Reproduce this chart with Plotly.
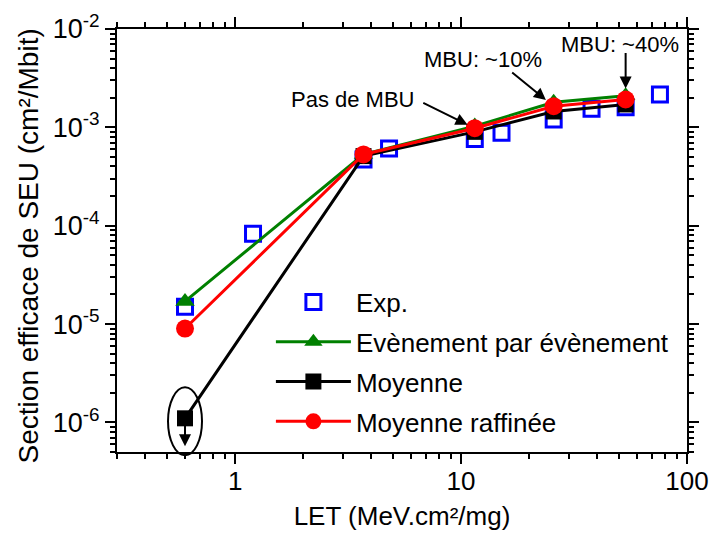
import math
import plotly.graph_objects as go

# Data
let_exp = [0.6, 1.2, 3.7, 4.8, 11.5, 15.1, 25.7, 37.8, 53.5, 75.9]
sig_exp = [1.5e-5, 8.3e-5, 4.7e-4, 6.1e-4, 7.6e-4, 8.8e-4, 1.2e-3, 1.55e-3, 1.6e-3, 2.16e-3]

let_sim = [0.6, 3.7, 11.5, 25.7, 53.5]
sig_evt = [1.7e-5, 5.3e-4, 1.03e-3, 1.8e-3, 2.1e-3]
sig_moy = [1.1e-6, 5.1e-4, 9.0e-4, 1.45e-3, 1.71e-3]
sig_raf = [9.0e-6, 5.3e-4, 9.8e-4, 1.64e-3, 1.92e-3]

y_tickvals = [1e-6, 1e-5, 1e-4, 1e-3, 1e-2]
y_ticktext = ["10<sup>-6</sup>", "10<sup>-5</sup>", "10<sup>-4</sup>", "10<sup>-3</sup>", "10<sup>-2</sup>"]
x_tickvals = [1, 10, 100]
x_ticktext = ["1", "10", "100"]

x_range = [math.log10(0.3), 2.0]
y_range = [math.log10(5e-7), -2.0]

FONT = "Liberation Sans, Arial, sans-serif"
W, H = 713, 538
ML, MR, MT, MB = 117, 26, 29, 86
PW, PH = W - ML - MR, H - MT - MB

fig = go.Figure()
fig.add_trace(go.Scatter(
    x=let_exp, y=sig_exp, mode="markers", name="Exp.",
    marker=dict(symbol="square-open", size=15, color="#0000FF", line=dict(width=3, color="#0000FF")),
    legendgroup="a"))
fig.add_trace(go.Scatter(
    x=let_sim, y=sig_evt, mode="lines+markers", name="Evènement par évènement",
    line=dict(color="#008000", width=3),
    marker=dict(symbol="triangle-up", size=17, color="#008000"),
    legendgroup="b"))
fig.add_trace(go.Scatter(
    x=let_sim, y=sig_moy, mode="lines+markers", name="Moyenne",
    line=dict(color="#000000", width=3),
    marker=dict(symbol="square", size=16, color="#000000"),
    legendgroup="c"))
fig.add_trace(go.Scatter(
    x=let_sim, y=sig_raf, mode="lines+markers", name="Moyenne raffinée",
    line=dict(color="#FF0000", width=3),
    marker=dict(symbol="circle", size=18, color="#FF0000"),
    legendgroup="d"))

lx = [math.log10(v) for v in let_sim]
ly = [math.log10(v) for v in sig_raf]

ann = []
arrow_style = dict(showarrow=True, arrowhead=2, arrowsize=1.2, arrowwidth=2, arrowcolor="black", text="")
ann.append(dict(x=lx[2], y=ly[2], ax=-53, ay=-26, standoff=8, **arrow_style))
ann.append(dict(x=lx[3], y=ly[3], ax=-43, ay=-35, standoff=10, **arrow_style))
ann.append(dict(x=lx[4], y=ly[4], ax=0, ay=-48, standoff=11, **arrow_style))
tfont = dict(family=FONT, size=22, color="black")
ann.append(dict(x=lx[2], y=ly[2], text="Pas de MBU", showarrow=False, xshift=-122, yshift=29, font=tfont))
ann.append(dict(x=lx[3], y=ly[3], text="MBU: ~10%", showarrow=False, xshift=-71, yshift=47, font=tfont))
ann.append(dict(x=lx[4], y=ly[4], text="MBU: ~40%", showarrow=False, xshift=-6, yshift=55, font=tfont))
# down arrow inside ellipse (upper limit)
bx = math.log10(let_sim[0])
by = math.log10(sig_moy[0])
ann.append(dict(x=bx, y=by, ax=0, ay=-22, yshift=-28, **arrow_style))
# y axis title
ann.append(dict(xref="paper", yref="paper", x=0, y=0.486, xanchor="center", yanchor="middle",
                xshift=-89, textangle=-90, showarrow=False,
                text="Section efficace de SEU (cm²/Mbit)", font=dict(family=FONT, size=28, color="black")))

# ellipse around the lowest "Moyenne" point, in paper coordinates
px = (bx - x_range[0]) / (x_range[1] - x_range[0])
py = (by - y_range[0]) / (y_range[1] - y_range[0])
ell = dict(type="circle", xref="paper", yref="paper",
           x0=px - 17 / PW, x1=px + 17 / PW, y0=py - 37 / PH, y1=py + 31 / PH,
           line=dict(color="black", width=2), layer="above")

fig.update_layout(
    width=W, height=H,
    margin=dict(l=ML, r=MR, t=MT, b=MB),
    paper_bgcolor="white", plot_bgcolor="white",
    font=dict(family=FONT, size=26, color="black"),
    showlegend=True,
    legend=dict(x=0.27, y=0.41, xanchor="left", yanchor="top",
                bgcolor="rgba(0,0,0,0)", font=dict(family=FONT, size=26, color="black"),
                traceorder="grouped", tracegroupgap=3, itemwidth=75),
    annotations=ann,
    shapes=[ell],
)
fig.update_xaxes(
    type="log", range=x_range, tickvals=x_tickvals, ticktext=x_ticktext, automargin=False,
    showline=True, linecolor="black", linewidth=2, mirror="allticks",
    ticks="outside", ticklen=10, tickwidth=2, tickcolor="black",
    minor=dict(ticks="outside", ticklen=5, tickwidth=2, tickcolor="black", dtick="D1"),
    showgrid=False, zeroline=False, ticklabelstandoff=-5,
    tickfont=dict(family=FONT, size=26),
    title=dict(text="LET (MeV.cm²/mg)", font=dict(family=FONT, size=26), standoff=12),
)
fig.update_yaxes(
    type="log", range=y_range, tickvals=y_tickvals, ticktext=y_ticktext, automargin=False,
    showline=True, linecolor="black", linewidth=2, mirror="allticks",
    ticks="outside", ticklen=10, tickwidth=2, tickcolor="black",
    minor=dict(ticks="outside", ticklen=5, tickwidth=2, tickcolor="black", dtick="D1"),
    showgrid=False, zeroline=False,
    tickfont=dict(family=FONT, size=27),
)

fig.write_html("out.html", config={"displayModeBar": False},
               post_script="document.body.style.margin='0';document.body.style.overflow='hidden';")
